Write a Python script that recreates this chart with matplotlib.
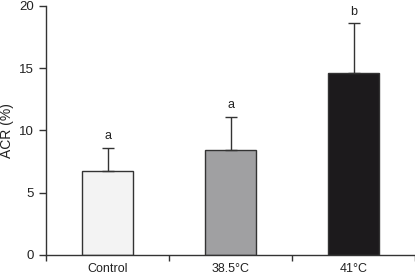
import matplotlib.pyplot as plt

groups = ['Control', '38.5°C', '41°C']
acr = [6.7, 8.4, 14.6]
err = [1.9, 2.7, 4.0]
letters = ['a', 'a', 'b']
colors = ['#f3f3f3', '#a0a0a2', '#1c1a1c']

plt.rcParams['font.family'] = ['Liberation Sans', 'DejaVu Sans']

fig = plt.figure(figsize=(4.15, 2.78), dpi=100)
ax = fig.add_axes([0.111, 0.083, 0.889, 0.896])

x = range(len(groups))
ax.bar(x, acr, width=0.41, color=colors, edgecolor='#333333', linewidth=1.0,
       yerr=[[0] * len(err), err], error_kw=dict(ecolor='#333333', elinewidth=1.0, capsize=4, capthick=1.0))

for i in x:
    ax.annotate(letters[i], (i, acr[i] + err[i]), xytext=(0, 4), textcoords='offset points',
                ha='center', va='bottom', fontsize=9, color='#222222')

ax.set_xlim(-0.5, 2.5)
ax.set_ylim(0, 20)
ax.set_yticks([0, 5, 10, 15, 20])
ax.set_xticks(list(x))
ax.set_xticklabels(groups)
ax.set_xticks([-0.5, 0.5, 1.5, 2.5], minor=True)
ax.tick_params(axis='x', which='major', length=0, labelsize=9, pad=6, colors='#222222')
ax.tick_params(axis='x', which='minor', length=4, width=1, color='#333333')
ax.tick_params(axis='y', length=5, width=1, labelsize=9.5, color='#333333', labelcolor='#222222')
ax.set_ylabel('ACR (%)', fontsize=10, color='#222222', labelpad=4)

for s in ['top', 'right']:
    ax.spines[s].set_visible(False)
for s in ['left', 'bottom']:
    ax.spines[s].set_color('#333333')
    ax.spines[s].set_linewidth(1.0)

fig.savefig('out.png', dpi=100)
